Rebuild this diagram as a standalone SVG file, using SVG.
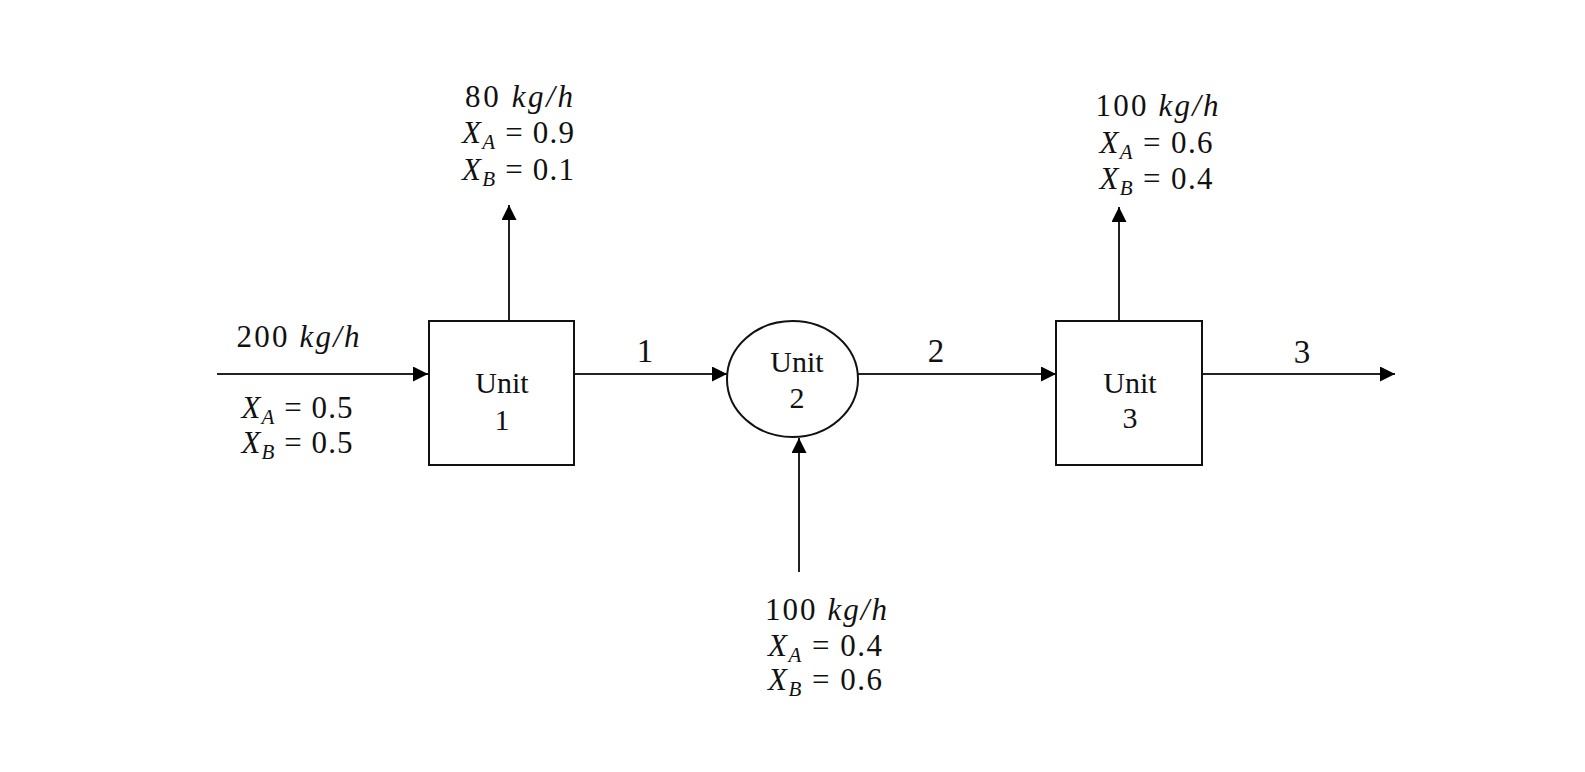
<svg xmlns="http://www.w3.org/2000/svg" width="1585" height="772" viewBox="0 0 1585 772">
<style>
.box{fill:#fff;stroke:#111;stroke-width:2}
.ln{stroke:#222;stroke-width:2;fill:none;marker-end:url(#ah)}
.m{font-family:"Liberation Serif","DejaVu Serif",serif;font-size:31px;fill:#111;text-anchor:middle}
.i{font-style:italic}
.s{font-style:italic;font-size:21px}
.u{font-family:"Liberation Serif",serif;font-size:30px;fill:#111;text-anchor:middle}
.lb{font-family:"Liberation Serif",serif;font-size:33px;fill:#111;text-anchor:middle}
</style>
<defs>
<marker id="ah" markerUnits="userSpaceOnUse" markerWidth="18" markerHeight="16" refX="15" refY="7.5" orient="auto">
<path d="M0,0 L15,7.5 L0,15 z" fill="#000"/>
</marker>
</defs>
<rect width="1585" height="772" fill="#fff"/>
<g id="connectors">
<line class="ln" x1="217" y1="374" x2="428" y2="374"/>
<line class="ln" x1="574" y1="374" x2="727" y2="374"/>
<line class="ln" x1="858" y1="374" x2="1056" y2="374"/>
<line class="ln" x1="1202" y1="374" x2="1395" y2="374"/>
<line class="ln" x1="509" y1="321" x2="509" y2="205"/>
<line class="ln" x1="1119" y1="321" x2="1119" y2="207"/>
<line class="ln" x1="799" y1="572" x2="799" y2="438"/>
<text class="lb" x="645" y="362">1</text>
<text class="lb" x="936" y="362">2</text>
<text class="lb" x="1302" y="363">3</text>
</g>
<g id="unit1">
<rect class="box" x="429" y="321" width="145" height="144"/>
<text class="u" x="502" y="393">Unit</text>
<text class="u" x="502" y="430">1</text>
</g>
<g id="unit2">
<ellipse class="box" cx="792.5" cy="379" rx="65.5" ry="58"/>
<text class="u" x="797" y="372">Unit</text>
<text class="u" x="797" y="408">2</text>
</g>
<g id="unit3">
<rect class="box" x="1056" y="321" width="146" height="144"/>
<text class="u" x="1130" y="393">Unit</text>
<text class="u" x="1130" y="428">3</text>
</g>
<g id="feed">
<text class="m" x="298" y="347" textLength="123" lengthAdjust="spacing">200 <tspan class="i">kg/h</tspan></text>
<text class="m" x="297" y="418" textLength="111" lengthAdjust="spacing"><tspan class="i">X</tspan><tspan class="s" dy="6">A</tspan><tspan dy="-6"> = 0.5</tspan></text>
<text class="m" x="297" y="453" textLength="111" lengthAdjust="spacing"><tspan class="i">X</tspan><tspan class="s" dy="6">B</tspan><tspan dy="-6"> = 0.5</tspan></text>
</g>
<g id="top1">
<text class="m" x="519" y="107" textLength="108" lengthAdjust="spacing">80 <tspan class="i">kg/h</tspan></text>
<text class="m" x="518" y="143" textLength="112" lengthAdjust="spacing"><tspan class="i">X</tspan><tspan class="s" dy="6">A</tspan><tspan dy="-6"> = 0.9</tspan></text>
<text class="m" x="518" y="180" textLength="112" lengthAdjust="spacing"><tspan class="i">X</tspan><tspan class="s" dy="6">B</tspan><tspan dy="-6"> = 0.1</tspan></text>
</g>
<g id="top3">
<text class="m" x="1157" y="116" textLength="123" lengthAdjust="spacing">100 <tspan class="i">kg/h</tspan></text>
<text class="m" x="1156" y="153" textLength="113" lengthAdjust="spacing"><tspan class="i">X</tspan><tspan class="s" dy="6">A</tspan><tspan dy="-6"> = 0.6</tspan></text>
<text class="m" x="1156" y="189" textLength="113" lengthAdjust="spacing"><tspan class="i">X</tspan><tspan class="s" dy="6">B</tspan><tspan dy="-6"> = 0.4</tspan></text>
</g>
<g id="bottom2">
<text class="m" x="826" y="620" textLength="122" lengthAdjust="spacing">100 <tspan class="i">kg/h</tspan></text>
<text class="m" x="825" y="656" textLength="114" lengthAdjust="spacing"><tspan class="i">X</tspan><tspan class="s" dy="6">A</tspan><tspan dy="-6"> = 0.4</tspan></text>
<text class="m" x="825" y="690" textLength="114" lengthAdjust="spacing"><tspan class="i">X</tspan><tspan class="s" dy="6">B</tspan><tspan dy="-6"> = 0.6</tspan></text>
</g>
</svg>
